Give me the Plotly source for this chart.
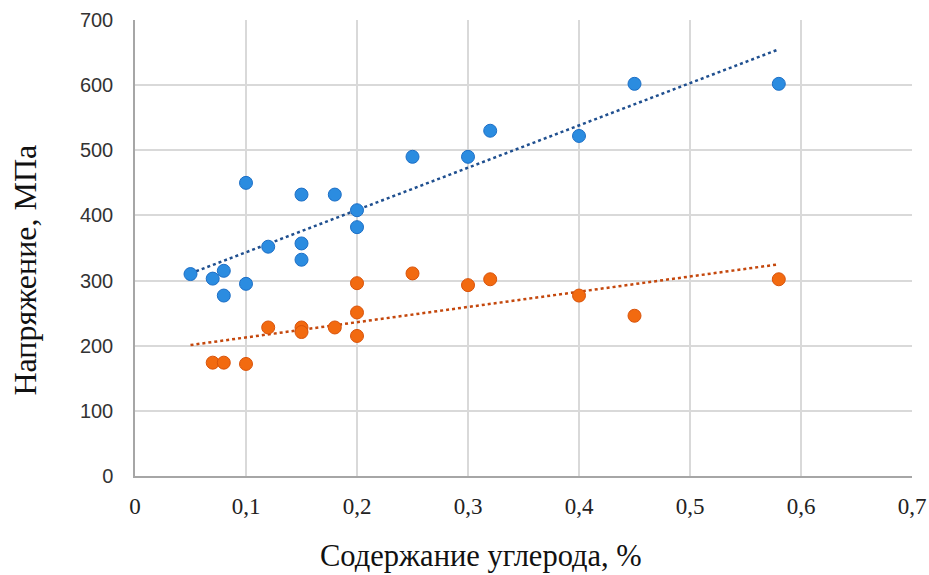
import plotly.graph_objects as go

# Data
blue_x = [0.05, 0.07, 0.08, 0.08, 0.10, 0.10, 0.12, 0.15, 0.15, 0.15, 0.18, 0.20, 0.20,
          0.25, 0.30, 0.32, 0.40, 0.45, 0.58]
blue_y = [310, 303, 315, 277, 450, 295, 352, 432, 357, 332, 432, 408, 382,
          490, 490, 530, 522, 602, 602]

orange_x = [0.07, 0.08, 0.10, 0.12, 0.15, 0.15, 0.18, 0.20, 0.20, 0.20,
            0.25, 0.30, 0.32, 0.40, 0.45, 0.58]
orange_y = [174, 174, 172, 228, 228, 221, 228, 296, 251, 215,
            311, 293, 302, 277, 246, 302]

trend_x = [0.05, 0.58]
blue_trend_y = [311, 655]
orange_trend_y = [201, 325]

x_ticks = [0, 0.1, 0.2, 0.3, 0.4, 0.5, 0.6, 0.7]
x_tick_text = ["0", "0,1", "0,2", "0,3", "0,4", "0,5", "0,6", "0,7"]
y_ticks = [0, 100, 200, 300, 400, 500, 600, 700]

x_title = "Содержание углерода, %"
y_title = "Напряжение, МПа"

fig = go.Figure()

fig.add_trace(go.Scatter(
    x=trend_x, y=orange_trend_y, mode="lines",
    line=dict(color="#c4470c", width=2.5, dash="dot"),
    showlegend=False, hoverinfo="skip"))
fig.add_trace(go.Scatter(
    x=trend_x, y=blue_trend_y, mode="lines",
    line=dict(color="#1f4f8f", width=2.5, dash="dot"),
    showlegend=False, hoverinfo="skip"))

fig.add_trace(go.Scatter(
    x=orange_x, y=orange_y, mode="markers",
    marker=dict(size=13, color="#f26a10", line=dict(color="#d9530a", width=1)),
    showlegend=False))
fig.add_trace(go.Scatter(
    x=blue_x, y=blue_y, mode="markers",
    marker=dict(size=13, color="#2b8ce0", line=dict(color="#1d6fc6", width=1)),
    showlegend=False))

fig.update_layout(
    width=929, height=575,
    margin=dict(l=135, r=17, t=20, b=99),
    paper_bgcolor="white", plot_bgcolor="white",
    xaxis=dict(
        range=[0, 0.7], tickvals=x_ticks, ticktext=x_tick_text,
        showgrid=True, gridcolor="#d9d9d9", gridwidth=1.5,
        showline=True, linecolor="#a6a6a6", linewidth=1.5,
        zeroline=False, ticks="", automargin=False,
        ticklabelstandoff=9,
        tickfont=dict(family="Liberation Serif", size=23, color="#222222"),
    ),
    yaxis=dict(
        range=[0, 700], tickvals=y_ticks,
        showgrid=True, gridcolor="#d9d9d9", gridwidth=1.5,
        showline=True, linecolor="#a6a6a6", linewidth=1.5,
        zeroline=False, ticks="", automargin=False,
        ticklabelstandoff=16,
        tickfont=dict(family="Liberation Sans", size=20, color="#333333"),
    ),
    annotations=[
        dict(text=x_title, xref="paper", yref="paper", x=0.445, y=-0.175,
             xanchor="center", yanchor="middle", showarrow=False,
             font=dict(family="Liberation Serif", size=30.5, color="#111111")),
        dict(text=y_title, xref="paper", yref="paper", x=-0.142, y=0.452,
             xanchor="center", yanchor="middle", showarrow=False, textangle=-90,
             font=dict(family="Liberation Serif", size=32, color="#111111")),
    ],
)

fig.write_html("out.html")
